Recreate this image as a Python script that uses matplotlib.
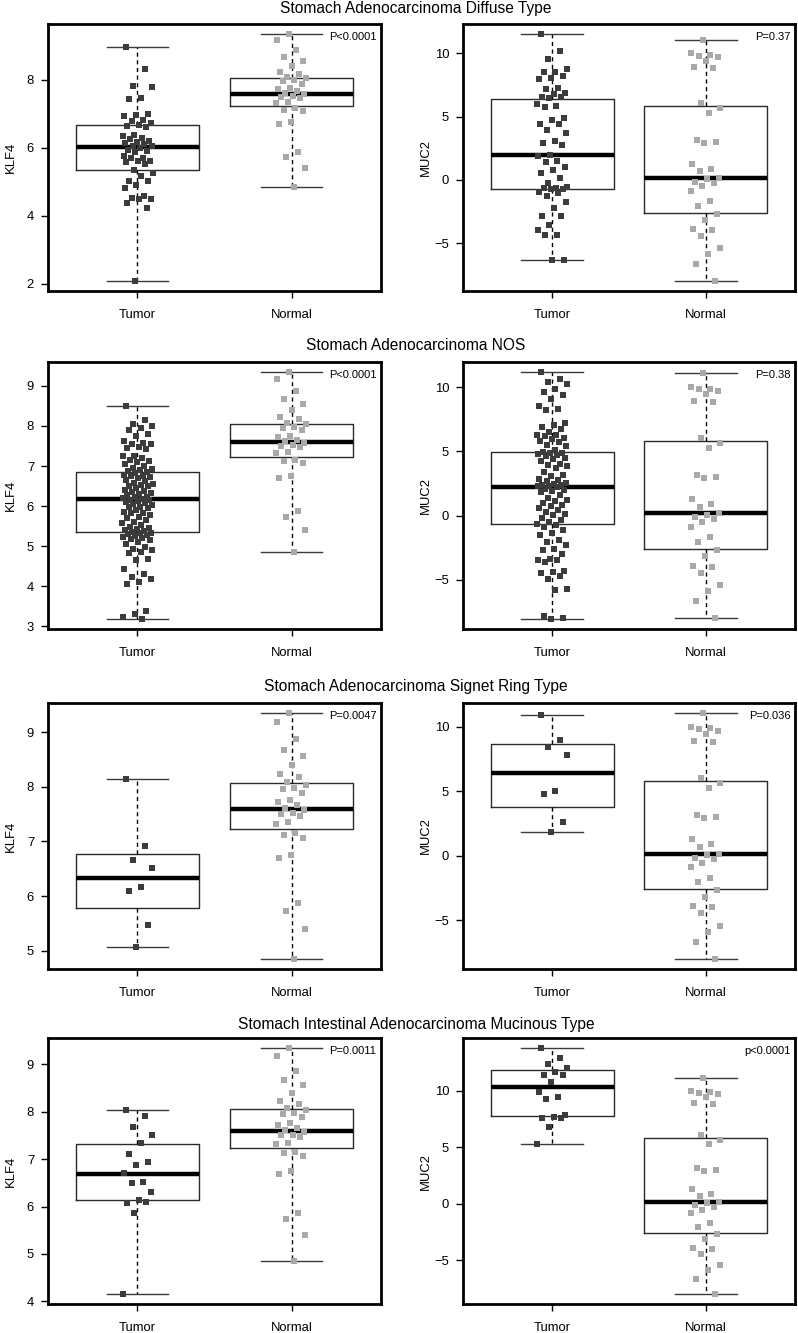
import numpy as np
import matplotlib
matplotlib.use('Agg')
import matplotlib.pyplot as plt

plt.rcParams['font.family'] = ['Liberation Sans', 'DejaVu Sans']

# ---------------- data ----------------
titles = ['Stomach Adenocarcinoma Diffuse Type',
          'Stomach Adenocarcinoma NOS',
          'Stomach Adenocarcinoma Signet Ring Type',
          'Stomach Intestinal Adenocarcinoma Mucinous Type']
groups = ['Tumor', 'Normal']
p_klf4 = ['P<0.0001', 'P<0.0001', 'P=0.0047', 'P=0.0011']
p_muc2 = ['P=0.37', 'P=0.38', 'P=0.036', 'p<0.0001']
klf4_ticks = [[2, 4, 6, 8], [3, 4, 5, 6, 7, 8, 9], [5, 6, 7, 8, 9], [4, 5, 6, 7, 8, 9]]
muc2_ticks = [[-5, 0, 5, 10], [-5, 0, 5, 10], [-5, 0, 5, 10], [-5, 0, 5, 10]]

# shared normal samples
normal_klf4 = [9.35, 9.18, 8.87, 8.67, 8.56, 8.40, 8.23, 8.17, 8.08, 8.04, 7.98, 7.95,
               7.89, 7.76, 7.73, 7.66, 7.62, 7.57, 7.52, 7.50, 7.47, 7.35, 7.32, 7.16,
               7.12, 7.07, 6.75, 6.69, 5.87, 5.73, 5.40, 4.85]
normal_muc2 = [11.08, 10.0, 9.87, 9.82, 9.69, 9.43, 8.91, 8.83, 6.04, 5.65, 5.26, 3.18,
               3.00, 2.92, 1.28, 0.89, 0.70, 0.18, 0.05, -0.13, -0.26, -0.52, -0.86,
               -1.69, -2.03, -2.68, -3.15, -3.91, -3.98, -4.43, -5.42, -5.86, -6.67, -8.00]

# tumor samples, KLF4
diffuse_klf4 = [8.97, 8.31, 7.81, 7.78, 7.46, 7.44, 6.99, 6.97, 6.94, 6.82, 6.79, 6.73,
                6.67, 6.65, 6.60, 6.37, 6.35, 6.30, 6.25, 6.20, 6.17, 6.15, 6.10, 6.05,
                6.05, 6.00, 5.93, 5.90, 5.88, 5.76, 5.71, 5.71, 5.61, 5.61, 5.58, 5.51,
                5.36, 5.26, 5.16, 5.02, 5.02, 4.92, 4.82, 4.57, 4.52, 4.49, 4.49, 4.39,
                4.22, 2.08]
nos_klf4 = [8.50, 8.16, 8.04, 8.00, 7.95, 7.91, 7.79, 7.74, 7.62, 7.58, 7.56, 7.54,
            7.48, 7.45, 7.42, 7.26, 7.24, 7.20, 7.16, 7.12, 7.09, 7.05, 6.99, 6.95,
            6.93, 6.91, 6.87, 6.84, 6.82, 6.78, 6.76, 6.74, 6.72, 6.70, 6.66, 6.62,
            6.57, 6.55, 6.53, 6.51, 6.49, 6.45, 6.41, 6.38, 6.36, 6.32, 6.30, 6.27,
            6.24, 6.22, 6.20, 6.18, 6.16, 6.15, 6.13, 6.11, 6.08, 6.05, 6.02, 5.99,
            5.97, 5.95, 5.90, 5.86, 5.84, 5.82, 5.78, 5.74, 5.70, 5.66, 5.61, 5.57,
            5.53, 5.49, 5.46, 5.42, 5.40, 5.38, 5.36, 5.34, 5.32, 5.30, 5.28, 5.26,
            5.23, 5.21, 5.19, 5.15, 5.11, 5.05, 4.98, 4.94, 4.90, 4.86, 4.82, 4.69,
            4.65, 4.44, 4.31, 4.23, 4.19, 4.10, 4.06, 3.39, 3.31, 3.24, 3.18]
signet_klf4 = [8.14, 6.91, 6.67, 6.51, 6.17, 6.10, 5.47, 5.07]
mucinous_klf4 = [8.04, 7.91, 7.68, 7.50, 7.34, 7.11, 6.95, 6.88, 6.70, 6.52, 6.49,
                 6.30, 6.13, 6.08, 6.09, 5.87, 4.15]

# tumor samples, MUC2
diffuse_muc2 = [11.54, 10.16, 9.55, 8.75, 8.54, 8.49, 8.22, 8.04, 8.01, 7.29, 7.16, 6.90,
                6.76, 6.58, 6.58, 6.50, 5.97, 5.84, 5.78, 4.88, 4.72, 4.38, 4.38, 3.98,
                3.71, 3.10, 2.92, 2.73, 1.99, 1.86, 1.46, 1.38, 0.98, 0.80, 0.58, 0.13,
                -0.27, -0.58, -0.61, -0.61, -0.72, -0.74, -0.93, -1.06, -1.25, -1.75,
                -2.25, -2.84, -2.86, -3.58, -3.93, -4.32, -4.38, -6.31, -6.35]
nos_muc2 = [11.18, 10.65, 10.40, 10.26, 9.87, 9.61, 9.40, 9.08, 8.56, 8.30, 8.25, 7.20,
            7.04, 6.86, 6.73, 6.50, 6.30, 6.26, 6.20, 6.07, 5.94, 5.80, 5.73, 5.52,
            5.42, 5.10, 4.98, 4.90, 4.85, 4.76, 4.70, 4.60, 4.50, 4.37, 4.24, 4.00,
            3.90, 3.85, 3.70, 3.40, 3.19, 3.06, 2.85, 2.75, 2.67, 2.55, 2.48, 2.41,
            2.36, 2.33, 2.28, 2.20, 2.10, 2.02, 1.95, 1.80, 1.60, 1.36, 1.23, 1.15,
            0.95, 0.84, 0.71, 0.60, 0.45, 0.30, 0.13, 0.02, -0.21, -0.34, -0.50,
            -0.62, -0.73, -0.86, -1.10, -1.39, -1.52, -1.91, -2.04, -2.30, -2.57,
            -2.70, -3.00, -3.35, -3.43, -3.48, -3.60, -4.27, -4.40, -4.45, -4.66,
            -4.92, -5.71, -5.75, -7.80, -7.93, -8.05]
signet_muc2 = [10.94, 8.96, 8.46, 7.79, 5.05, 4.79, 2.66, 1.88]
mucinous_muc2 = [13.79, 12.90, 12.37, 12.01, 11.63, 11.42, 11.42, 10.77, 9.85, 9.41,
                 9.26, 7.87, 7.66, 7.57, 7.57, 6.78, 5.27]

tumor_klf4 = [diffuse_klf4, nos_klf4, signet_klf4, mucinous_klf4]
tumor_muc2 = [diffuse_muc2, nos_muc2, signet_muc2, mucinous_muc2]

# box statistics: median, lower hinge, upper hinge
klf4_tumor_med = [6.02, 6.18, 6.34, 6.69]
klf4_tumor_q1 = [5.36, 5.35, 5.79, 6.13]
klf4_tumor_q3 = [6.68, 6.86, 6.78, 7.33]
klf4_normal_stats = [7.59, 7.23, 8.06]
muc2_tumor_med = [1.94, 2.23, 6.43, 10.30]
muc2_tumor_q1 = [-0.72, -0.68, 3.75, 7.72]
muc2_tumor_q3 = [6.37, 4.97, 8.70, 11.80]
muc2_normal_stats = [0.18, -2.60, 5.82]

# ---------------- layout ----------------
W, H = 798, 1333
fig = plt.figure(figsize=(W / 100, H / 100), dpi=100)
col_x = [(48, 381), (463, 795)]
row_y = [(24, 291), (362, 629), (703, 969), (1038, 1304)]
title_y = [9, 346, 686, 1024]

TUMOR_C = '#3c3c3c'
NORMAL_C = '#a9a9a9'


def jitter(n, phase):
    k = np.arange(n)
    return (((k * 0.6180339887 + phase) % 1.0) - 0.5) * 0.2


def panel(ax, tumor, normal, t_stats, n_stats, ylabel, ticks, ptxt):
    stats = []
    for vals, (med, q1, q3) in ((tumor, t_stats), (normal, n_stats)):
        stats.append(dict(med=med, q1=q1, q3=q3, whislo=min(vals), whishi=max(vals),
                          fliers=[]))
    ax.bxp(stats, positions=[1, 2], widths=0.8, showfliers=False,
           boxprops=dict(color='#2a2a2a', lw=1.0),
           medianprops=dict(color='black', lw=3.2, solid_capstyle='butt'),
           whiskerprops=dict(color='black', lw=1.0, linestyle=(0, (3, 2.5))),
           capprops=dict(color='#3a3a3a', lw=1.0), zorder=2)
    ax.scatter(1 + jitter(len(tumor), 0.13), tumor, marker='s', s=18, c=TUMOR_C,
               linewidths=0, zorder=3)
    ax.scatter(2 + jitter(len(normal), 0.41), normal, marker='s', s=18, c=NORMAL_C,
               linewidths=0, zorder=3)
    allv = list(tumor) + list(normal)
    lo, hi = min(allv), max(allv)
    r = hi - lo
    ax.set_ylim(lo - 0.04 * r, hi + 0.04 * r)
    ax.set_xlim(0.42, 2.58)
    ax.set_xticks([1, 2])
    ax.set_xticklabels(groups)
    ax.set_yticks(ticks)
    ax.set_yticklabels([str(t).replace('-', '\u2212') for t in ticks])
    for s in ax.spines.values():
        s.set_linewidth(2.0)
        s.set_color('black')
    ax.tick_params(axis='both', direction='out', length=5, width=1.0,
                   labelsize=9.4, colors='black')
    ax.tick_params(axis='x', pad=8)
    ax.tick_params(axis='y', pad=5)
    ax.set_ylabel(ylabel, fontsize=9.4)
    ax.yaxis.set_label_coords(-0.112, 0.5)
    ax.yaxis.label.set_verticalalignment('center')
    ax.text(0.986, 0.952, ptxt, transform=ax.transAxes, ha='right', va='center',
            fontsize=8, zorder=5,
            bbox=dict(facecolor='white', edgecolor='none', pad=1.0))


for i in range(4):
    top, bot = row_y[i]
    axes = []
    for j in range(2):
        x0, x1 = col_x[j]
        axes.append(fig.add_axes([x0 / W, 1 - bot / H, (x1 - x0) / W, (bot - top) / H]))
    panel(axes[0], tumor_klf4[i], normal_klf4,
          (klf4_tumor_med[i], klf4_tumor_q1[i], klf4_tumor_q3[i]), klf4_normal_stats,
          'KLF4', klf4_ticks[i], p_klf4[i])
    panel(axes[1], tumor_muc2[i], normal_muc2,
          (muc2_tumor_med[i], muc2_tumor_q1[i], muc2_tumor_q3[i]), muc2_normal_stats,
          'MUC2', muc2_ticks[i], p_muc2[i])
    fig.text(416 / W, 1 - title_y[i] / H, titles[i], ha='center', va='center',
             fontsize=11.2)

fig.savefig('out.png', dpi=100, facecolor='white')
